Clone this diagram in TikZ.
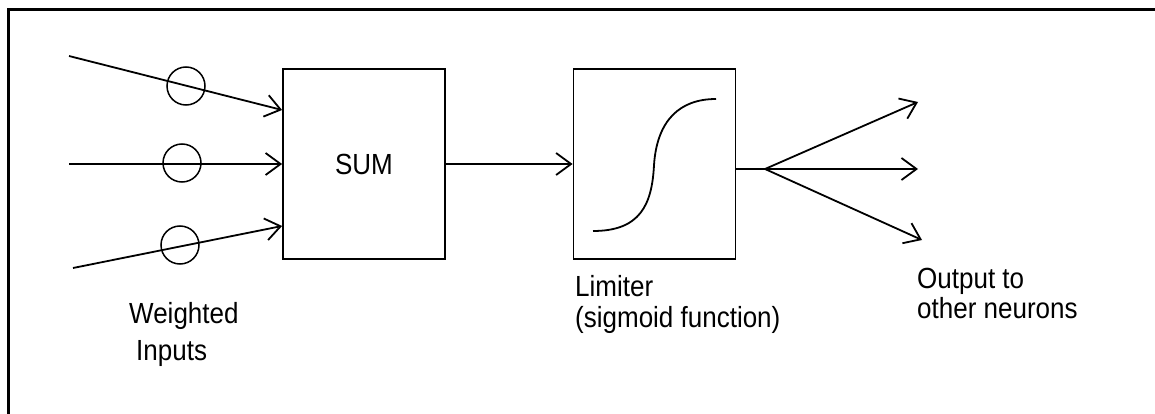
\documentclass[tikz,border=0pt]{standalone}
\usepackage{fontspec}
\setmainfont{Liberation Sans}
\usetikzlibrary{arrows.meta,calc}
\begin{document}
\begin{tikzpicture}[x=1pt,y=-1pt,
  wire/.style={line width=1.8pt},
  arr/.style={wire,-{Straight Barb[length=15pt,width=22pt,line width=1.8pt]}},
  blk/.style={draw,line width=1.8pt,minimum width=162pt,minimum height=190pt,inner sep=0pt,
              font=\fontsize{26}{30}\selectfont},
  wt/.style={draw,circle,line width=1.5pt,minimum size=38pt,inner sep=0pt},
  lbl/.style={font=\fontsize{26}{30}\selectfont,inner sep=0pt,anchor=base west}]
\useasboundingbox (0,0) rectangle (1155,414);
% frame on the top and left edges
\draw[line width=3pt] (1156,10) -- (8,10) -- (8,415);

% processing blocks
\node[blk] (sum) at (364,164) {\scalebox{1}[1.12]{SUM}};
\node[blk] (lim) at (654.5,164) {};
% sigmoid curve inside the limiter
\draw[wire] (593,231) .. controls (640,231) and (652,205) .. (654,165)
                      .. controls (657,120) and (680,99) .. (716,99);

% weights on the inputs
\node[wt] (w1) at (186,86) {};
\node[wt] (w2) at (182,163) {};
\node[wt] (w3) at (180,245) {};

% input lines
\coordinate (x1) at (69,56);
\coordinate (x2) at (69,164);
\coordinate (x3) at (73,268);
\draw[arr] (x1) -- ([yshift=54pt]sum.west);
\draw[arr] (x2) -- (sum.west);
\draw[arr] (x3) -- ([yshift=-62pt]sum.west);

% sum to limiter
\draw[arr] (sum.east) -- (lim.west);

% fan-out to other neurons
\coordinate (fan) at (765,169);
\coordinate (o1) at (918,102);
\coordinate (o2) at (918,169);
\coordinate (o3) at (922,240);
\draw[wire] ([yshift=-5pt]lim.east) -- (fan);
\draw[arr] (fan) -- (o1);
\draw[arr] (fan) -- (o2);
\draw[arr] (fan) -- (o3);

% labels
\node[lbl] (t1) at (129,323) {\scalebox{1}[1.12]{Weighted}};
\node[lbl] (t2) at (136,360) {\scalebox{1}[1.12]{Inputs}};
\node[lbl] (t3) at (575,296) {\scalebox{1}[1.12]{Limiter}};
\node[lbl] (t4) at (575,327) {\scalebox{1}[1.12]{(sigmoid function)}};
\node[lbl] (t5) at (917,288) {\scalebox{1}[1.12]{Output to}};
\node[lbl] (t6) at (917,318) {\scalebox{1}[1.12]{other neurons}};
\end{tikzpicture}
\end{document}
